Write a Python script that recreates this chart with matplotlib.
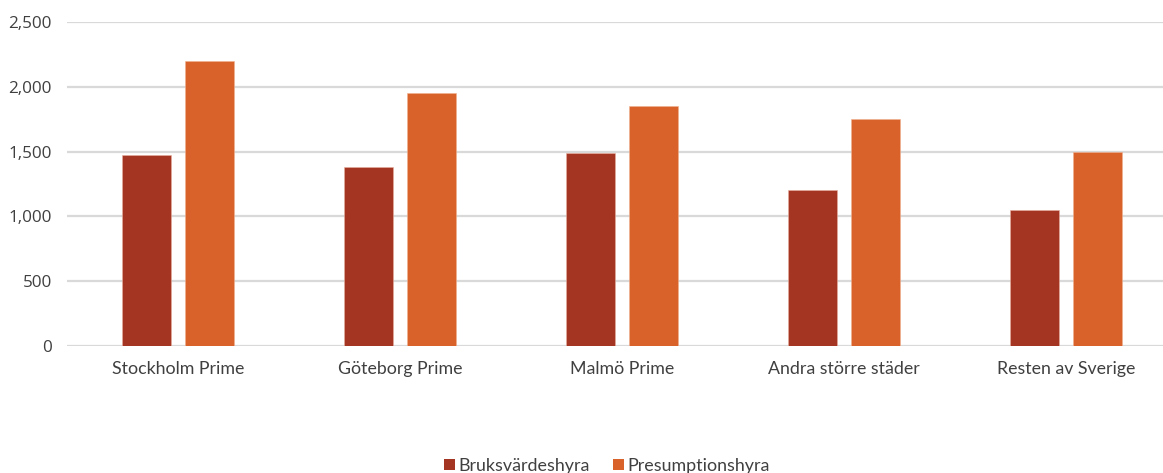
import matplotlib
matplotlib.use("Agg")
import matplotlib.pyplot as plt
import numpy as np
from matplotlib.patches import Patch

categories = ["Stockholm Prime", "Göteborg Prime", "Malmö Prime", "Andra större städer", "Resten av Sverige"]
bruks = [1470, 1380, 1490, 1200, 1050]
presumption = [2200, 1950, 1850, 1750, 1500]
series_names = ["Bruksvärdeshyra", "Presumptionshyra"]
yticks = [0, 500, 1000, 1500, 2000, 2500]
ytick_labels = ["0", "500", "1,000", "1,500", "2,000", "2,500"]

c1 = "#A33522"
c2 = "#D9622B"
txt = "#404040"

plt.rcParams['font.family'] = ['Lato', 'DejaVu Sans']

fig = plt.figure(figsize=(11.63, 4.73), dpi=100)
ax = fig.add_axes([67/1163, 1-346/473, 1-67/1163, (346-22)/473])

x = np.arange(len(categories))
w = 0.225
off = 0.142
ax.bar(x - off, bruks, width=w, color=c1, zorder=3, edgecolor="#e8b0a0", linewidth=0.4)
ax.bar(x + off, presumption, width=w, color=c2, zorder=3, edgecolor="#f0b090", linewidth=0.4)

ax.set_xlim(-0.5, (1163-67)/222 - 0.5)
ax.set_ylim(0, 2500)
ax.set_yticks(yticks)
ax.set_yticklabels(ytick_labels, fontsize=12.3, color=txt, family=['Open Sans', 'DejaVu Sans'])
ax.set_xticks(x)
ax.set_xticklabels(categories, fontsize=12.8, color=txt)
ax.tick_params(axis='both', length=0)
ax.tick_params(axis='y', pad=11)
ax.tick_params(axis='x', pad=11)
ax.yaxis.grid(True, color="#D9D9D9", linewidth=1.6, zorder=0)
ax.set_axisbelow(True)
for s in ax.spines.values():
    s.set_visible(False)

handles = [Patch(facecolor=c1, label=series_names[0]), Patch(facecolor=c2, label=series_names[1])]
fig.legend(handles=handles, loc='center', bbox_to_anchor=(0.522, 1 - 466/473), ncol=2,
           frameon=False, fontsize=12.9, handlelength=0.6, handleheight=0.6, handletextpad=0.2,
           columnspacing=1.3, labelcolor=txt)

fig.savefig("out.png", dpi=100)
